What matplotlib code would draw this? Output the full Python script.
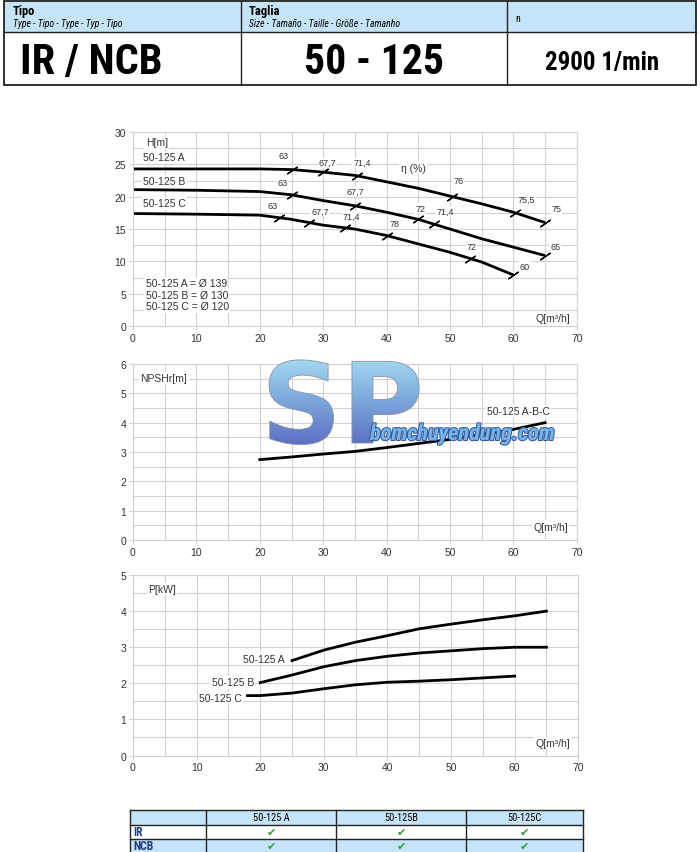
import numpy as np
import matplotlib
matplotlib.use('Agg')
import matplotlib.pyplot as plt
from matplotlib.patches import Rectangle, PathPatch
from matplotlib.textpath import TextPath
from matplotlib.font_manager import FontProperties
from matplotlib.colors import LinearSegmentedColormap
import matplotlib.patheffects as pe

plt.rcParams['font.family'] = ['Liberation Sans', 'DejaVu Sans']
COND = ['Roboto Condensed', 'DejaVu Sans']

# head curves H(Q)
q_a = [0, 10, 20, 25, 30, 35, 40, 45, 50, 55, 60, 65]
h_a = [24.3, 24.3, 24.3, 24.2, 23.8, 23.3, 22.3, 21.3, 20.1, 18.9, 17.6, 16.0]
q_b = [0, 10, 20, 25, 30, 35, 40, 45, 50, 55, 60, 65]
h_b = [21.1, 21.0, 20.8, 20.3, 19.4, 18.6, 17.6, 16.5, 15.0, 13.5, 12.2, 10.9]
q_c = [0, 10, 20, 25, 30, 35, 40, 45, 50, 55, 60]
h_c = [17.4, 17.3, 17.15, 16.5, 15.6, 15.0, 14.0, 12.7, 11.4, 9.9, 7.9]

# efficiency marks on the head curves
eff_q_a = [25, 30, 35.3, 50.3, 60.3, 65]
eff_a = ['63', '67,7', '71,4', '76', '75,5', '75']
eff_q_b = [25, 35, 45, 47.4, 65]
eff_b = ['63', '67,7', '72', '71,4', '65']
eff_q_c = [23, 27.8, 33.4, 40, 53.2, 60]
eff_c = ['63', '67,7', '71,4', '78', '72', '60']

# NPSHr
q_npsh = [20, 25, 30, 35, 40, 45, 50, 55, 60, 65]
npsh = [2.74, 2.83, 2.93, 3.02, 3.15, 3.29, 3.43, 3.6, 3.77, 4.0]

# power
q_pa = [25, 30, 35, 40, 45, 50, 55, 60, 65]
p_a = [2.63, 2.92, 3.14, 3.32, 3.51, 3.64, 3.76, 3.87, 4.0]
q_pb = [20, 25, 30, 35, 40, 45, 50, 55, 60, 65]
p_b = [2.02, 2.23, 2.46, 2.63, 2.75, 2.84, 2.90, 2.96, 3.0, 3.0]
q_pc = [18, 20, 25, 30, 35, 40, 45, 50, 55, 60]
p_c = [1.66, 1.66, 1.73, 1.85, 1.96, 2.03, 2.06, 2.10, 2.15, 2.2]

models = ['50-125 A', '50-125B', '50-125C']
variants = ['IR', 'NCB']

BLUE = '#c6e4f7'
GRID = '#d2d2d2'
TXT = '#333333'

fig = plt.figure(figsize=(7, 8.53), dpi=100)

# background axes in pixel coordinates (y down)
bg = fig.add_axes([0, 0, 1, 1], zorder=-5)
bg.set_xlim(0, 700)
bg.set_ylim(853, 0)
bg.axis('off')

# header table
bg.add_patch(Rectangle((4, 2), 692, 31, facecolor=BLUE, edgecolor='none'))
bg.add_patch(Rectangle((4, 2), 692, 84, facecolor='none', edgecolor='#222222', lw=1.3))
bg.plot([4, 696], [33, 33], color='#222222', lw=1.0)
for xx in [241, 507]:
    bg.plot([xx, xx], [2, 86], color='#222222', lw=1.0)
bg.text(13, 11, 'Tipo', family=COND, weight='bold', fontsize=9, va='center')
bg.text(13, 24, 'Type - Tipo - Type - Typ - Tipo', family=COND, style='italic', fontsize=7, va='center')
bg.text(249, 11, 'Taglia', family=COND, weight='bold', fontsize=9, va='center')
bg.text(249, 24, 'Size - Tamaño - Taille - Größe - Tamanho', family=COND, style='italic', fontsize=7, va='center')
bg.text(515, 19, 'n', family=COND, fontsize=7, va='center')
bg.text(20, 62, 'IR / NCB', family=COND, weight='bold', fontsize=30.5, va='center')
bg.text(374, 62, '50 - 125', family=COND, weight='bold', fontsize=30, va='center', ha='center')
bg.text(602, 63, '2900 1/min', family=COND, weight='bold', fontsize=18, va='center', ha='center')

# bottom table
xs = [130, 206, 336, 466, 583]
bg.add_patch(Rectangle((130, 811), 453, 15, facecolor=BLUE, edgecolor='none'))
bg.add_patch(Rectangle((130, 840), 453, 20, facecolor=BLUE, edgecolor='none'))
for yy in [811, 826, 840]:
    bg.plot([130, 583], [yy, yy], color='#222222', lw=1.0)
for xx in xs:
    bg.plot([xx, xx], [811, 860], color='#222222', lw=1.0)
for i, m in enumerate(models):
    bg.text((xs[i + 1] + xs[i + 2]) / 2, 818.5, m, family=COND, fontsize=7.5, ha='center', va='center')
for j, v in enumerate(variants):
    yc = 833 + j * 14
    bg.text(133, yc, v, family=COND, weight='bold', fontsize=8.5, color='#1f3b8f', va='center')
    for i in range(3):
        bg.text((xs[i + 1] + xs[i + 2]) / 2, yc, '\u2714', family='DejaVu Sans', fontsize=8,
                color='#2f9a2f', ha='center', va='center')


def style(ax, ymax, ystep):
    ax.set_xlim(0, 70)
    ax.set_ylim(0, ymax)
    ax.set_xticks(np.arange(0, 71, 10))
    ax.set_xticks(np.arange(0, 71, 5), minor=True)
    ax.set_yticks(np.arange(0, ymax + 0.01, ystep))
    ax.set_yticks(np.arange(0, ymax + 0.01, ystep / 2), minor=True)
    ax.grid(True, which='both', color=GRID, lw=0.8)
    ax.set_axisbelow(True)
    for s in ax.spines.values():
        s.set_color(GRID)
    ax.tick_params(which='both', length=3, color=GRID, labelsize=7.5, labelcolor=TXT, pad=2)
    ax.tick_params(which='minor', length=0)


lab = dict(fontsize=7.5, color=TXT, bbox=dict(facecolor='white', edgecolor='none', pad=1))
small = dict(fontsize=6.5, color=TXT, ha='center', va='center',
             bbox=dict(facecolor='white', edgecolor='none', pad=0.5))

# H chart
ax1 = fig.add_axes([0.19, 0.6166, 0.634, 0.2274])
style(ax1, 30, 5)
for q, h, eq, el, pos in [
        (q_a, h_a, eff_q_a, eff_a, [(23.8, 26.3), (30.7, 25.3), (36.1, 25.3), (51.3, 22.5), (62.1, 19.6), (66.8, 18.2)]),
        (q_b, h_b, eff_q_b, eff_b, [(23.6, 22.2), (35.0, 20.9), (45.3, 18.2), (49.2, 17.7), (66.6, 12.3)]),
        (q_c, h_c, eff_q_c, eff_c, [(22.0, 18.7), (29.5, 17.8), (34.5, 17.0), (41.2, 15.8), (53.4, 12.3), (61.8, 9.2)])]:
    ax1.plot(q, h, color='black', lw=2, solid_capstyle='butt')
    ax1.plot(eq, np.interp(eq, q, h), ls='none', marker=(2, 2, -55), ms=9, mew=0.9, color='black')
    for (tx, ty), t in zip(pos, el):
        ax1.text(tx, ty, t, **small)
ax1.text(1.6, 26.1, '50-125 A', va='center', **lab)
ax1.text(1.6, 22.4, '50-125 B', va='center', **lab)
ax1.text(1.6, 19.0, '50-125 C', va='center', **lab)
ax1.text(2.0, 28.4, 'H[m]', va='center', **lab)
ax1.text(44.2, 24.5, '\u03b7 (%)', ha='center', va='center', **lab)
ax1.text(2.0, 6.65, '50-125 A = \u00d8 139', va='center', **lab)
ax1.text(2.0, 4.85, '50-125 B = \u00d8 130', va='center', **lab)
ax1.text(2.0, 3.05, '50-125 C = \u00d8 120', va='center', **lab)
ax1.text(69, 1.2, 'Q[m\u00b3/h]', ha='right', va='center', **lab)

# NPSH chart
ax2 = fig.add_axes([0.19, 0.3658, 0.634, 0.2063])
style(ax2, 6, 1)
ax2.plot(q_npsh, npsh, color='black', lw=2)
ax2.text(1.2, 5.52, 'NPSHr[m]', va='center', **lab)
ax2.text(55.8, 4.4, '50-125 A-B-C', va='center', **lab)
ax2.text(68.6, 0.45, 'Q[m\u00b3/h]', ha='right', va='center', **lab)

# P chart
ax3 = fig.add_axes([0.19, 0.1131, 0.636, 0.2116])
style(ax3, 5, 1)
ax3.plot(q_pa, p_a, color='black', lw=2)
ax3.plot(q_pb, p_b, color='black', lw=2)
ax3.plot(q_pc, p_c, color='black', lw=2)
ax3.text(23.9, 2.68, '50-125 A', ha='right', va='center', **lab)
ax3.text(19.0, 2.03, '50-125 B', ha='right', va='center', **lab)
ax3.text(17.1, 1.59, '50-125 C', ha='right', va='center', **lab)
ax3.text(2.4, 4.62, 'P[kW]', va='center', **lab)
ax3.text(68.8, 0.35, 'Q[m\u00b3/h]', ha='right', va='center', **lab)

# watermark overlay (pixel coords, y up)
ov = fig.add_axes([0, 0, 1, 1], zorder=10)
ov.set_xlim(0, 700)
ov.set_ylim(0, 853)
ov.axis('off')
ov.patch.set_alpha(0)
tp = TextPath((0, 0), 'SP', size=112, prop=FontProperties(family='DejaVu Sans', weight='bold'))
tp = tp.transformed(matplotlib.transforms.Affine2D().translate(261, 853 - 444))
patch = PathPatch(tp, facecolor='none', edgecolor='#8a94a8', lw=0.6)
ov.add_patch(patch)
cmap = LinearSegmentedColormap.from_list('wm', ['#5d6cc0', '#7aa7dc', '#a9def2'])
grad = np.linspace(0, 1, 100).reshape(-1, 1)
im = ov.imshow(grad, cmap=cmap, origin='lower', extent=[255, 430, 405, 498], aspect='auto')
im.set_clip_path(patch)
ov.set_xlim(0, 700)
ov.set_ylim(0, 853)
ov.text(370, 853 - 441, 'bomchuyendung.com', family=COND, weight='bold', style='italic',
        fontsize=16, color='#74b6ec',
        path_effects=[pe.withStroke(linewidth=1.5, foreground='#3a5a9a')])

fig.savefig('out.png', dpi=100)
